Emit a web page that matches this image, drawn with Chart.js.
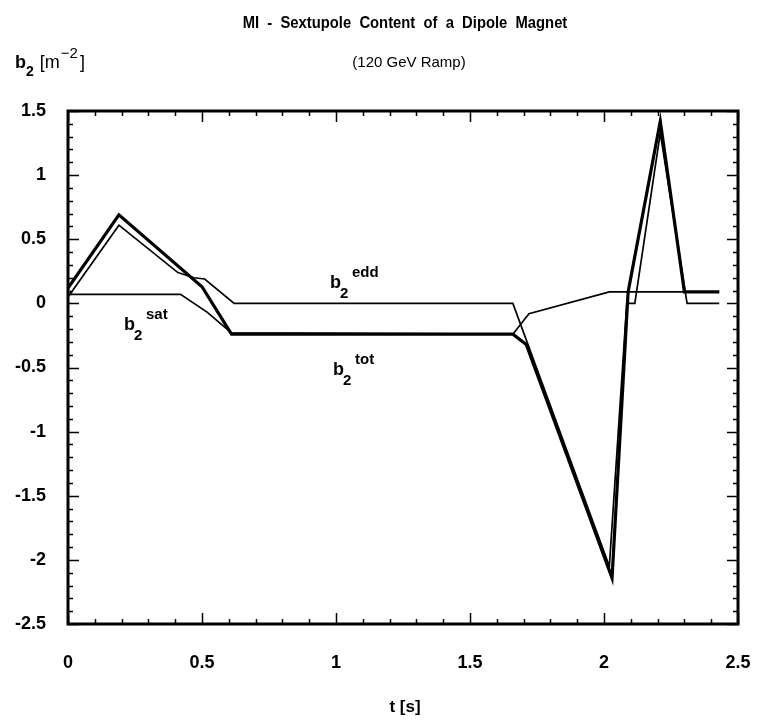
<!DOCTYPE html>
<html>
<head>
<meta charset="utf-8">
<script src="https://cdn.jsdelivr.net/npm/chart.js@4.4.1/dist/chart.umd.min.js"></script>
<style>
  html, body { margin: 0; padding: 0; background: #fff; }
</style>
</head>
<body>
<canvas id="myChart" width="761" height="724"></canvas>
<script>
// b2 total
const totTime = [0, 0.19, 0.50, 0.61, 1.66, 1.71, 2.03, 2.09, 2.21, 2.30, 2.43];
const totVal  = [0.12, 0.69, 0.13, -0.24, -0.24, -0.32, -2.14, 0.09, 1.42, 0.09, 0.09];
// b2 eddy current
const eddTime = [0, 0.19, 0.41, 0.47, 0.51, 0.62, 1.66, 2.02, 2.085, 2.115, 2.21, 2.31, 2.43];
const eddVal  = [0.05, 0.61, 0.24, 0.20, 0.19, 0.0, 0.0, -2.05, 0.0, 0.0, 1.33, 0.0, 0.0];
// b2 saturation
const satTime = [0, 0.42, 0.52, 0.61, 1.66, 1.72, 2.02, 2.43];
const satVal  = [0.07, 0.07, -0.07, -0.23, -0.24, -0.08, 0.09, 0.09];

const xTicks = [0, 0.5, 1, 1.5, 2, 2.5];
const yTicks = [1.5, 1, 0.5, 0, -0.5, -1, -1.5, -2, -2.5];

const toPoints = (ts, vs) => ts.map((t, i) => ({ x: t, y: vs[i] }));

const FONT = '"Liberation Sans", Arial, sans-serif';

// frame, inward ticks and the text around the plot
const decor = {
    id: 'decor',
    afterDraw(chart) {
        const { ctx, chartArea: a, scales: { x, y } } = chart;
        ctx.save();
        ctx.strokeStyle = '#000';
        ctx.fillStyle = '#000';

        // ticks, every 0.1 (minor) and 0.5 (major)
        ctx.lineWidth = 1.5;
        ctx.beginPath();
        for (let i = 0; i <= 25; i++) {
            const px = Math.round(x.getPixelForValue(i / 10)) + 0.5;
            const len = i % 5 === 0 ? 11 : 5;
            ctx.moveTo(px, a.bottom); ctx.lineTo(px, a.bottom - len);
            ctx.moveTo(px, a.top); ctx.lineTo(px, a.top + len);
        }
        for (let i = -25; i <= 15; i++) {
            const py = Math.round(y.getPixelForValue(i / 10)) + 0.5;
            const len = i % 5 === 0 ? 11 : 5;
            ctx.moveTo(a.left, py); ctx.lineTo(a.left + len, py);
            ctx.moveTo(a.right, py); ctx.lineTo(a.right - len, py);
        }
        ctx.stroke();

        ctx.lineWidth = 3;
        ctx.strokeRect(a.left, a.top, a.right - a.left, a.bottom - a.top);

        // title (a bit condensed) and subtitle
        ctx.textAlign = 'center';
        ctx.textBaseline = 'alphabetic';
        ctx.save();
        ctx.translate(405, 28);
        ctx.scale(0.87, 1);
        ctx.font = 'bold 17px ' + FONT;
        ctx.fillText('MI  -  Sextupole  Content  of  a  Dipole  Magnet', 0, 0);
        ctx.restore();
        ctx.font = '15px ' + FONT;
        ctx.fillText('(120 GeV Ramp)', 409, 67);

        // axis title
        ctx.font = 'bold 17px ' + FONT;
        ctx.fillText('t [s]', 405, 712);

        ctx.textAlign = 'left';
        const label = (x0, y0, sup) => {
            ctx.font = 'bold 18px ' + FONT;
            ctx.fillText('b', x0, y0);
            ctx.font = 'bold 15px ' + FONT;
            ctx.fillText('2', x0 + 10, y0 + 10);
            ctx.fillText(sup, x0 + 22, y0 - 11);
        };
        // y axis label b2 [m^-2]
        let cx = 15;
        ctx.font = 'bold 18px ' + FONT;
        ctx.fillText('b', cx, 68);
        cx += ctx.measureText('b').width;
        ctx.font = 'bold 14px ' + FONT;
        ctx.fillText('2', cx, 76);
        cx += ctx.measureText('2').width + 6;
        ctx.font = '18px ' + FONT;
        ctx.fillText('[m', cx, 68);
        cx += ctx.measureText('[m').width + 1;
        ctx.font = '15px ' + FONT;
        ctx.fillText('\u22122', cx, 58);
        cx += ctx.measureText('\u22122').width + 2;
        ctx.font = '18px ' + FONT;
        ctx.fillText(']', cx, 68);

        // curve labels
        label(330, 288, 'edd');
        label(124, 330, 'sat');
        label(333, 375, 'tot');

        ctx.restore();
    }
};

const ctx = document.getElementById('myChart').getContext('2d');

const myChart = new Chart(ctx, {
    type: 'scatter',
    data: {
        datasets: [
            {
                label: 'b2 tot',
                data: toPoints(totTime, totVal),
                showLine: true,
                borderColor: '#000',
                borderWidth: 3.2,
                pointRadius: 0
            },
            {
                label: 'b2 edd',
                data: toPoints(eddTime, eddVal),
                showLine: true,
                borderColor: '#000',
                borderWidth: 1.7,
                pointRadius: 0
            },
            {
                label: 'b2 sat',
                data: toPoints(satTime, satVal),
                showLine: true,
                borderColor: '#000',
                borderWidth: 1.7,
                pointRadius: 0
            }
        ]
    },
    options: {
        responsive: false,
        animation: false,
        layout: { padding: { top: 111, right: 23, left: 0, bottom: 0 } },
        plugins: {
            legend: { display: false },
            tooltip: { enabled: false }
        },
        scales: {
            x: {
                type: 'linear',
                min: 0,
                max: 2.5,
                grid: { display: false, drawTicks: false },
                border: { display: false },
                afterBuildTicks: s => { s.ticks = xTicks.map(v => ({ value: v })); },
                afterFit: s => { s.height = 100; s.paddingLeft = 0; s.paddingRight = 0; },
                ticks: {
                    padding: 28,
                    color: '#000',
                    maxRotation: 0,
                    font: { family: FONT, size: 18, weight: 'bold' },
                    callback: v => String(v)
                }
            },
            y: {
                type: 'linear',
                min: -2.5,
                max: 1.5,
                grid: { display: false, drawTicks: false },
                border: { display: false },
                afterBuildTicks: s => { s.ticks = yTicks.map(v => ({ value: v })); },
                afterFit: s => { s.width = 68; s.paddingTop = 0; s.paddingBottom = 0; },
                ticks: {
                    padding: 22,
                    color: '#000',
                    font: { family: FONT, size: 18, weight: 'bold' },
                    callback: v => String(v)
                }
            }
        }
    },
    plugins: [decor]
});
</script>
</body>
</html>
